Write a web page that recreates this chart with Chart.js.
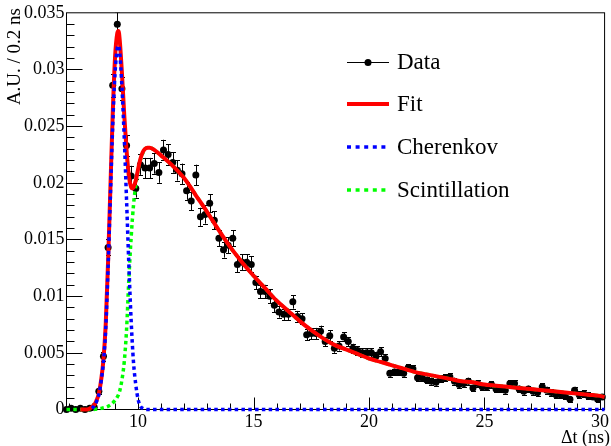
<!DOCTYPE html>
<html>
<head>
<meta charset="utf-8">
<script src="https://cdn.jsdelivr.net/npm/chart.js@4.4.1/dist/chart.umd.min.js"></script>
<style>
  html, body { margin: 0; padding: 0; background: #fff; }
  canvas { display: block; }
</style>
</head>
<body>
<canvas id="timing" width="611" height="446"></canvas>
<script>
// Time-difference spectrum: histogram (0.2 ns bins) with the total fit and
// its two components, a fast Cherenkov peak and a slower scintillation part.

// --- Histogram ---
const binCenters = [
  6.9, 7.1, 7.3, 7.5, 7.7, 7.9, 8.1, 8.3, 8.5, 8.7,
  8.9, 9.1, 9.3, 9.5, 9.7, 9.9, 10.1, 10.3, 10.5, 10.7,
  10.9, 11.1, 11.3, 11.5, 11.7, 11.9, 12.1, 12.3, 12.5, 12.7,
  12.9, 13.1, 13.3, 13.5, 13.7, 13.9, 14.1, 14.3, 14.5, 14.7,
  14.9, 15.1, 15.3, 15.5, 15.7, 15.9, 16.1, 16.3, 16.5, 16.7,
  16.9, 17.1, 17.3, 17.5, 17.7, 17.9, 18.1, 18.3, 18.5, 18.7,
  18.9, 19.1, 19.3, 19.5, 19.7, 19.9, 20.1, 20.3, 20.5, 20.7,
  20.9, 21.1, 21.3, 21.5, 21.7, 21.9, 22.1, 22.3, 22.5, 22.7,
  22.9, 23.1, 23.3, 23.5, 23.7, 23.9, 24.1, 24.3, 24.5, 24.7,
  24.9, 25.1, 25.3, 25.5, 25.7, 25.9, 26.1, 26.3, 26.5, 26.7,
  26.9, 27.1, 27.3, 27.5, 27.7, 27.9, 28.1, 28.3, 28.5, 28.7,
  28.9, 29.1, 29.3, 29.5, 29.7, 29.9, 30.1
];

const dataValues = [
  0.0000, 0.0001, 0.0000, 0.0001, 0.0000, 0.0001, 0.0002, 0.0016, 0.0047, 0.0143,
  0.0286, 0.0340, 0.0283, 0.0233, 0.0206, 0.0195, 0.0216, 0.0213, 0.0213, 0.0217,
  0.0209, 0.0229, 0.0225, 0.0218, 0.0211, 0.0208, 0.0193, 0.0184, 0.0207, 0.0170,
  0.0172, 0.0182, 0.0167, 0.0151, 0.0141, 0.0145, 0.0151, 0.0128, 0.0130, 0.0130,
  0.0128, 0.0112, 0.0104, 0.0104, 0.0100, 0.0092, 0.0086, 0.0084, 0.0084, 0.0095,
  0.0082, 0.0080, 0.0066, 0.0067, 0.0067, 0.0069, 0.0060, 0.0065, 0.0054, 0.0056,
  0.0064, 0.0060, 0.0054, 0.0052, 0.0050, 0.0050, 0.0050, 0.0047, 0.0051, 0.0045,
  0.0032, 0.0033, 0.0033, 0.0032, 0.0037, 0.0036, 0.0028, 0.0028, 0.0026, 0.0025,
  0.0024, 0.0027, 0.0028, 0.0029, 0.0025, 0.0022, 0.0023, 0.0025, 0.0019, 0.0023,
  0.0020, 0.0020, 0.0022, 0.0018, 0.0018, 0.0017, 0.0023, 0.0023, 0.0018, 0.0016,
  0.0018, 0.0016, 0.0015, 0.0020, 0.0017, 0.0015, 0.0013, 0.0013, 0.0012, 0.0009,
  0.0017, 0.0013, 0.0014, 0.0012, 0.0011, 0.0009, 0.0011
];

const dataErrors = [
  0.0000, 0.0001, 0.0000, 0.0001, 0.0000, 0.0001, 0.0001, 0.0002, 0.0004, 0.0007,
  0.0010, 0.0011, 0.0010, 0.0009, 0.0009, 0.0008, 0.0009, 0.0009, 0.0009, 0.0009,
  0.0009, 0.0009, 0.0009, 0.0009, 0.0009, 0.0009, 0.0008, 0.0008, 0.0009, 0.0008,
  0.0008, 0.0008, 0.0008, 0.0007, 0.0007, 0.0007, 0.0007, 0.0007, 0.0007, 0.0007,
  0.0007, 0.0006, 0.0006, 0.0006, 0.0006, 0.0006, 0.0005, 0.0005, 0.0005, 0.0006,
  0.0005, 0.0005, 0.0005, 0.0005, 0.0005, 0.0005, 0.0004, 0.0005, 0.0004, 0.0004,
  0.0004, 0.0004, 0.0004, 0.0004, 0.0004, 0.0004, 0.0004, 0.0004, 0.0004, 0.0004,
  0.0003, 0.0003, 0.0003, 0.0003, 0.0003, 0.0003, 0.0003, 0.0003, 0.0003, 0.0003,
  0.0003, 0.0003, 0.0003, 0.0003, 0.0003, 0.0003, 0.0003, 0.0003, 0.0003, 0.0003,
  0.0003, 0.0003, 0.0003, 0.0003, 0.0003, 0.0003, 0.0003, 0.0003, 0.0003, 0.0003,
  0.0003, 0.0003, 0.0003, 0.0003, 0.0003, 0.0003, 0.0003, 0.0003, 0.0003, 0.0002,
  0.0003, 0.0003, 0.0003, 0.0003, 0.0002, 0.0002, 0.0002
];

// --- Total fit ---
const fitTimes = [
  7.5, 7.8, 8.0, 8.1, 8.2, 8.3, 8.4, 8.5, 8.6, 8.7,
  8.8, 8.9, 9.0, 9.1, 9.15, 9.2, 9.3, 9.4, 9.5, 9.6,
  9.7, 9.75, 9.8, 9.9, 10.0, 10.1, 10.2, 10.3, 10.4, 10.5,
  10.7, 11.0, 11.5, 12.0, 12.5, 13.0, 13.5, 14.0, 14.5, 15.0,
  15.5, 16.0, 16.5, 17.0, 17.5, 18.0, 18.5, 19.0, 19.5, 20.0,
  20.5, 21.0, 21.5, 22.0, 22.5, 23.0, 23.5, 24.0, 24.5, 25.0,
  25.5, 26.0, 26.5, 27.0, 27.5, 28.0, 28.5, 29.0, 29.5, 30.0, 30.2
];
const fitValues = [
  0.0000, 0.0000, 0.0002, 0.0004, 0.0008, 0.0014, 0.0026, 0.0044, 0.0076, 0.0130,
  0.0195, 0.0260, 0.0310, 0.0332, 0.0334, 0.0327, 0.0297, 0.0260, 0.0229, 0.0206,
  0.0196, 0.0195, 0.0196, 0.0202, 0.0212, 0.0221, 0.0227, 0.0230, 0.0231, 0.0231,
  0.0229, 0.0224, 0.0215, 0.0204, 0.0189, 0.0174, 0.0158, 0.0143, 0.0130, 0.0118,
  0.0107, 0.0096, 0.0087, 0.0078, 0.0070, 0.0063, 0.0057, 0.0053, 0.0049, 0.0045,
  0.0042, 0.0039, 0.0036, 0.0033, 0.0031, 0.0029, 0.0027, 0.0025, 0.0024, 0.0022,
  0.0021, 0.0020, 0.0019, 0.0018, 0.0017, 0.0016, 0.0015, 0.0014, 0.0013, 0.0012, 0.0011
];

// --- Cherenkov component ---
const cherenkovTimes = [
  8.0, 8.1, 8.2, 8.3, 8.4, 8.5, 8.6, 8.7, 8.8, 8.9,
  9.0, 9.1, 9.15, 9.2, 9.3, 9.4, 9.5, 9.6, 9.7, 9.8,
  9.9, 10.0, 10.1, 10.2, 10.4, 30.2
];
const cherenkovValues = [
  0.0001, 0.0003, 0.0007, 0.0013, 0.0025, 0.0042, 0.0072, 0.0125, 0.0188, 0.0250,
  0.0296, 0.0319, 0.0321, 0.0316, 0.0285, 0.0240, 0.0185, 0.0128, 0.0078, 0.0042,
  0.0022, 0.0009, 0.0003, 0.0001, 0.0000, 0.0000
];

// --- Scintillation component ---
const scintTimes = [
  6.9, 8.0, 8.4, 8.6, 8.8, 9.0, 9.1, 9.2, 9.3, 9.4,
  9.5, 9.6, 9.7, 9.8, 9.9, 10.0, 10.1, 10.2, 10.3, 10.4,
  10.5, 10.7, 11.0, 11.5, 12.0, 12.5, 13.0, 13.5, 14.0, 14.5,
  15.0, 15.5, 16.0, 16.5, 17.0, 17.5, 18.0, 18.5, 19.0, 19.5,
  20.0, 20.5, 21.0, 21.5, 22.0, 22.5, 23.0, 23.5, 24.0, 24.5,
  25.0, 25.5, 26.0, 26.5, 27.0, 27.5, 28.0, 28.5, 29.0, 29.5,
  30.0, 30.2
];
const scintValues = [
  0.0000, 0.0000, 0.0001, 0.0002, 0.0004, 0.0008, 0.0011, 0.0016, 0.0026, 0.0042,
  0.0070, 0.0115, 0.0152, 0.0180, 0.0198, 0.0211, 0.0220, 0.0226, 0.0230, 0.0231,
  0.0231, 0.0229, 0.0224, 0.0215, 0.0204, 0.0189, 0.0174, 0.0158, 0.0143, 0.0130,
  0.0118, 0.0107, 0.0096, 0.0087, 0.0078, 0.0070, 0.0063, 0.0057, 0.0053, 0.0049,
  0.0045, 0.0042, 0.0039, 0.0036, 0.0033, 0.0031, 0.0029, 0.0027, 0.0025, 0.0024,
  0.0022, 0.0021, 0.0020, 0.0019, 0.0018, 0.0017, 0.0016, 0.0015, 0.0014, 0.0013,
  0.0012, 0.0011
];

// --- Axes ---
const xTickValues = [10, 15, 20, 25, 30];
const yTickValues = [0, 0.005, 0.01, 0.015, 0.02, 0.025, 0.03, 0.035];
const yTickLabels = ['0', '0.005', '0.01', '0.015', '0.02', '0.025', '0.03', '0.035'];
const xTitle = 'Δt (ns)';
const yTitle = 'A.U. / 0.2 ns';

const legendLabels = ['Data', 'Fit', 'Cherenkov', 'Scintillation'];

const SERIF = '"Liberation Serif", "Times New Roman", serif';
const BLUE = '#0000ff';
const GREEN = '#00ff00';
const RED = '#ff0000';

function toPoints(xs, ys) {
  return xs.map((x, i) => ({ x: x, y: ys[i] }));
}

// Frame, inward tick marks, error bars, axis titles and the legend block.
const rootStyle = {
  id: 'rootStyle',

  beforeDatasetsDraw(chart) {
    const { ctx, chartArea: a, scales: { x, y } } = chart;
    ctx.save();
    ctx.strokeStyle = '#000';
    ctx.lineWidth = 1;
    ctx.strokeRect(a.left, a.top, a.right - a.left, a.bottom - a.top);

    ctx.beginPath();
    // x: major every 5 ns, minor every 1 ns
    for (let t = 7; t <= 30; t++) {
      const px = Math.round(x.getPixelForValue(t)) + 0.5;
      const len = t % 5 === 0 ? 12 : 6;
      ctx.moveTo(px, a.bottom);
      ctx.lineTo(px, a.bottom - len);
    }
    // y: major every 0.005, minor every 0.001
    for (let k = 1; k < 35; k++) {
      const py = Math.round(y.getPixelForValue(k / 1000)) + 0.5;
      const len = k % 5 === 0 ? 16 : 8;
      ctx.moveTo(a.left, py);
      ctx.lineTo(a.left + len, py);
    }
    ctx.stroke();
    ctx.restore();
  },

  beforeDatasetDraw(chart, args) {
    if (args.index !== 0) return;
    const { ctx, chartArea: a, scales: { x, y } } = chart;
    ctx.save();
    ctx.beginPath();
    ctx.rect(a.left - 3, a.top, a.right - a.left + 6, a.bottom - a.top + 3);
    ctx.clip();
    ctx.strokeStyle = '#000';
    ctx.lineWidth = 1;
    ctx.beginPath();
    binCenters.forEach((t, i) => {
      const err = dataErrors[i];
      if (!err) return;
      const px = Math.round(x.getPixelForValue(t)) + 0.5;
      const lo = y.getPixelForValue(dataValues[i] - err);
      const hi = y.getPixelForValue(dataValues[i] + err);
      ctx.moveTo(px, lo);
      ctx.lineTo(px, hi);
      ctx.moveTo(px - 2.5, Math.round(lo) + 0.5);
      ctx.lineTo(px + 2.5, Math.round(lo) + 0.5);
      ctx.moveTo(px - 2.5, Math.round(hi) + 0.5);
      ctx.lineTo(px + 2.5, Math.round(hi) + 0.5);
    });
    ctx.stroke();
    ctx.restore();
  },

  afterDraw(chart) {
    const { ctx } = chart;
    ctx.save();
    ctx.fillStyle = '#000';

    // axis titles, right-aligned to the axis ends
    ctx.font = '18px ' + SERIF;
    ctx.textAlign = 'right';
    ctx.textBaseline = 'alphabetic';
    ctx.fillText(xTitle, 610, 443);

    ctx.save();
    ctx.translate(15, 8);
    ctx.rotate(-Math.PI / 2);
    ctx.font = '19px ' + SERIF;
    ctx.textAlign = 'right';
    ctx.textBaseline = 'middle';
    ctx.fillText(yTitle, 0, 0);
    ctx.restore();

    // legend
    const x0 = 347, x1 = 389, textX = 397;
    const rows = [62, 104, 147, 190];
    ctx.font = '23px ' + SERIF;
    ctx.textAlign = 'left';
    ctx.textBaseline = 'middle';
    legendLabels.forEach((label, i) => ctx.fillText(label, textX, rows[i] + 1));

    ctx.lineCap = 'butt';
    // Data: marker with a line through it
    ctx.strokeStyle = '#000';
    ctx.lineWidth = 1;
    ctx.beginPath();
    ctx.moveTo(x0, rows[0] + 0.5);
    ctx.lineTo(x1, rows[0] + 0.5);
    ctx.stroke();
    ctx.beginPath();
    ctx.arc((x0 + x1) / 2, rows[0] + 0.5, 3.5, 0, Math.PI * 2);
    ctx.fill();
    // Fit
    ctx.strokeStyle = RED;
    ctx.lineWidth = 4;
    ctx.beginPath();
    ctx.moveTo(x0, rows[1]);
    ctx.lineTo(x1, rows[1]);
    ctx.stroke();
    // components
    ctx.lineWidth = 3.5;
    ctx.setLineDash([4, 4.6]);
    ctx.strokeStyle = BLUE;
    ctx.beginPath();
    ctx.moveTo(x0, rows[2]);
    ctx.lineTo(x1, rows[2]);
    ctx.stroke();
    ctx.strokeStyle = GREEN;
    ctx.beginPath();
    ctx.moveTo(x0, rows[3]);
    ctx.lineTo(x1, rows[3]);
    ctx.stroke();
    ctx.restore();
  }
};

const tickFont = { family: SERIF, size: 18 };

new Chart(document.getElementById('timing'), {
  type: 'line',
  data: {
    datasets: [
      {
        label: 'Data',
        data: toPoints(binCenters, dataValues),
        showLine: false,
        pointRadius: 3.5,
        pointBackgroundColor: '#000',
        pointBorderWidth: 0,
        clip: false,
        order: 3
      },
      {
        label: 'Fit',
        data: toPoints(fitTimes, fitValues),
        borderColor: RED,
        borderWidth: 4,
        pointRadius: 0,
        cubicInterpolationMode: 'monotone',
        clip: false,
        order: 1
      },
      {
        label: 'Cherenkov',
        data: toPoints(cherenkovTimes, cherenkovValues),
        borderColor: BLUE,
        borderWidth: 3.5,
        borderDash: [3.5, 3.3],
        pointRadius: 0,
        cubicInterpolationMode: 'monotone',
        clip: false,
        order: 0
      },
      {
        label: 'Scintillation',
        data: toPoints(scintTimes, scintValues),
        borderColor: GREEN,
        borderWidth: 3.5,
        borderDash: [3.5, 3.3],
        pointRadius: 0,
        cubicInterpolationMode: 'monotone',
        clip: false,
        order: 2
      }
    ]
  },
  options: {
    responsive: false,
    animation: false,
    events: [],
    layout: { padding: { top: 12.5, right: 2.5, left: 0, bottom: 0 } },
    plugins: {
      legend: { display: false },
      tooltip: { enabled: false }
    },
    scales: {
      x: {
        type: 'linear',
        min: 6.9,
        max: 30.2,
        afterFit(scale) { scale.height = 36.5; },
        afterBuildTicks(scale) { scale.ticks = xTickValues.map(v => ({ value: v })); },
        grid: { display: false, drawTicks: false },
        border: { display: false },
        ticks: {
          autoSkip: false,
          maxRotation: 0,
          padding: 2,
          color: '#000',
          font: tickFont,
          callback: (v) => String(v)
        }
      },
      y: {
        type: 'linear',
        min: 0,
        max: 0.035,
        afterFit(scale) { scale.width = 66.5; },
        afterBuildTicks(scale) { scale.ticks = yTickValues.map(v => ({ value: v })); },
        grid: { display: false, drawTicks: false },
        border: { display: false },
        ticks: {
          autoSkip: false,
          padding: 2,
          color: '#000',
          font: tickFont,
          callback: (v, i) => yTickLabels[i]
        }
      }
    }
  },
  plugins: [rootStyle]
});
</script>
</body>
</html>
